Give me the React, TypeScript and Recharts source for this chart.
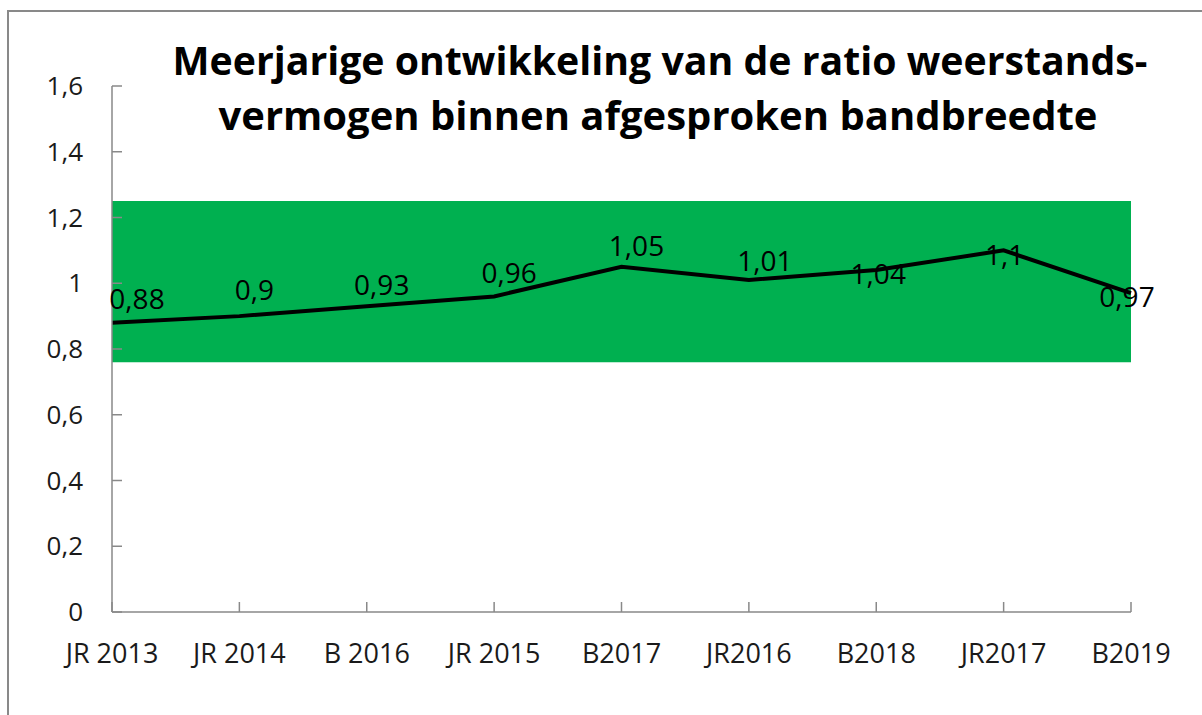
import { LabelList, Line, LineChart, ReferenceArea, XAxis, YAxis } from "recharts";

const categories = ["JR 2013", "JR 2014", "B 2016", "JR 2015", "B2017", "JR2016", "B2018", "JR2017", "B2019"];
const ratio = [0.88, 0.9, 0.93, 0.96, 1.05, 1.01, 1.04, 1.1, 0.97];
const yTicks = [0, 0.2, 0.4, 0.6, 0.8, 1, 1.2, 1.4, 1.6];
const bandLow = 0.76;
const bandHigh = 1.25;
const titleLines = ["Meerjarige ontwikkeling van de ratio weerstands-", "vermogen binnen afgesproken bandbreedte"];

// label offsets (dx, dy) relative to each point, as placed in the original
const labelOffsets = [
  [25, -25],
  [15, -27],
  [15, -22],
  [15, -24],
  [15, -22],
  [16, -20],
  [2, 3],
  [1, 4],
  [-4, 3],
];

const data = categories.map((name, i) => ({ name, ratio: ratio[i] }));

const FONT = "'Open Sans', sans-serif";
const AXIS = "#898989";

const fmt = (v: number) => String(v).replace(".", ",");

const renderLabel = (props: any) => {
  const { x, y, value, index } = props;
  const [dx, dy] = labelOffsets[index] || [0, -20];
  return (
    <text
      x={x + dx}
      y={y + dy}
      textAnchor="middle"
      dominantBaseline="central"
      fontFamily={FONT}
      fontSize={28}
      fill="#000"
    >
      {fmt(value)}
    </text>
  );
};

export default function App() {
  return (
    <div style={{ position: "absolute", left: 0, top: 0, width: 1202, height: 715, background: "#fff" }}>
      <div
        style={{
          position: "absolute",
          left: 7,
          top: 10,
          right: 0,
          bottom: 0,
          borderLeft: `2px solid ${AXIS}`,
          borderTop: `2px solid ${AXIS}`,
        }}
      />
      <LineChart
        width={1202}
        height={715}
        data={data}
        margin={{ top: 86, right: 71, bottom: 53, left: 52 }}
        style={{ position: "absolute", left: 0, top: 0 }}
      >
        <ReferenceArea y1={bandLow} y2={bandHigh} fill="#00B050" fillOpacity={1} stroke="none" />
        <XAxis
          dataKey="name"
          height={50}
          tickSize={-10}
          tickMargin={42}
          stroke={AXIS}
          strokeWidth={1.5}
          tick={{ fill: "#1a1a1a", fontSize: 27, fontFamily: FONT }}
          interval={0}
        />
        <YAxis
          width={60}
          domain={[0, 1.6]}
          ticks={yTicks}
          tickFormatter={fmt}
          tickSize={-10}
          tickMargin={39}
          stroke={AXIS}
          strokeWidth={1.5}
          tick={{ fill: "#1a1a1a", fontSize: 26, fontFamily: FONT }}
          interval={0}
        />
        <Line
          type="linear"
          dataKey="ratio"
          stroke="#000"
          strokeWidth={4}
          dot={false}
          activeDot={false}
          isAnimationActive={false}
        >
          <LabelList dataKey="ratio" content={renderLabel} />
        </Line>
      </LineChart>
      <svg width={1202} height={160} style={{ position: "absolute", left: 0, top: 0, pointerEvents: "none" }}>
        <text
          x={660}
          y={75}
          textAnchor="middle"
          fontFamily={FONT}
          fontWeight={700}
          fontSize={39}
          textLength={975}
          lengthAdjust="spacingAndGlyphs"
        >
          {titleLines[0]}
        </text>
        <text
          x={658}
          y={130}
          textAnchor="middle"
          fontFamily={FONT}
          fontWeight={700}
          fontSize={39}
          textLength={879}
          lengthAdjust="spacingAndGlyphs"
        >
          {titleLines[1]}
        </text>
      </svg>
    </div>
  );
}
